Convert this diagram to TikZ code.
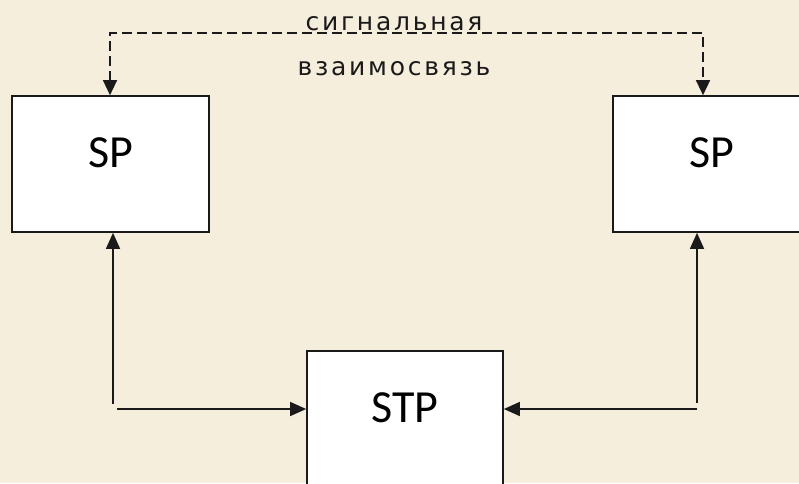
\documentclass[tikz,border=0pt]{standalone}
\usepackage{fontspec}
\setmainfont{Carlito}
\newfontfamily\cyrfont[LetterSpace=11]{DejaVu Sans}
\usepackage{tikz}
\usetikzlibrary{arrows.meta,calc}
\definecolor{paper}{HTML}{F6EEDD}
\definecolor{ink}{HTML}{1A1A1A}
\tikzset{
    every picture/.style={line cap=butt,line join=miter},
    unitbox/.style={draw=ink,fill=white,line width=1.7pt,
      minimum width=197pt,minimum height=136pt,inner sep=0pt,
      text height=29pt,text depth=22pt,font=\fontsize{46}{50}\selectfont},
    linkarrow/.style={draw=ink,line width=1.5pt,
      -{Triangle[length=16pt,width=14pt]}},
    sigarrow/.style={draw=ink,line width=1.5pt,dash pattern=on 10pt off 5pt,
      {Triangle[length=15pt,width=14pt]}-{Triangle[length=15pt,width=14pt]}},
    siglabel/.style={text=ink,inner sep=0pt,anchor=base,
      font=\cyrfont\fontsize{25}{28}\selectfont}
}
\begin{document}
\begin{tikzpicture}[x=1pt,y=-1pt]
  \path[use as bounding box,fill=paper] (0,0) rectangle (799,483);
  \clip (0,0) rectangle (799,483);
  % signalling units and transfer point
  \node[unitbox] (spl) at (110.5,164) {SP};
  \node[unitbox] (spr) at (711.5,164) {SP};
  \node[unitbox,minimum width=196pt] (stp) at (405,419) {STP};
  % signalling link
  \coordinate (dl) at (110,33);
  \coordinate (dr) at (703,33);
  \draw[sigarrow] (dl |- spl.north) -- (dl) -- (dr) -- (dr |- spr.north);
  \node[siglabel] (t1) at (394,30) {сигнальная};
  \node[siglabel] (t2) at (394,75) {взаимосвязь};
  % links to the STP
  \coordinate (cl) at (113,404);
  \coordinate (hl) at (117,409);
  \coordinate (cr) at (697,403);
  \coordinate (hr) at (697,409);
  \draw[linkarrow] (cl) -- (cl |- spl.south);
  \draw[linkarrow] (hl) -- (hl -| stp.west);
  \draw[linkarrow] (cr) -- (cr |- spr.south);
  \draw[linkarrow] (hr) -- (hr -| stp.east);
\end{tikzpicture}
\end{document}
